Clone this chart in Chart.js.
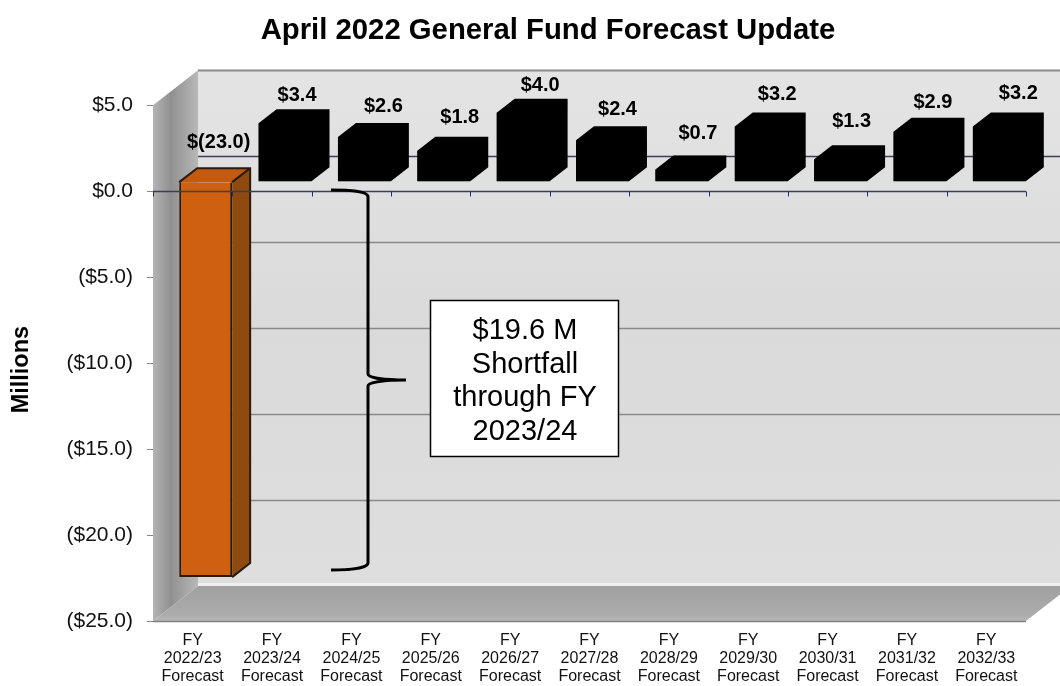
<!DOCTYPE html>
<html>
<head>
<meta charset="utf-8">
<title>April 2022 General Fund Forecast Update</title>
<script src="https://cdn.jsdelivr.net/npm/chart.js@4"></script>
<style>
  html, body { margin: 0; padding: 0; background: #fff; }
  canvas { display: block; }
</style>
</head>
<body>
<canvas id="myChart" width="1060" height="686"></canvas>
<script>
const years = ['2022/23', '2023/24', '2024/25', '2025/26', '2026/27', '2027/28', '2028/29', '2029/30', '2030/31', '2031/32', '2032/33']
const forecast = [-23.0, 3.4, 2.6, 1.8, 4.0, 2.4, 0.7, 3.2, 1.3, 2.9, 3.2]
const valueLabels = ['$(23.0)', '$3.4', '$2.6', '$1.8', '$4.0', '$2.4', '$0.7', '$3.2', '$1.3', '$2.9', '$3.2']
const noteLines = ['$19.6 M', 'Shortfall', 'through FY', '2023/24']

const FONT = '"Liberation Sans", Arial, sans-serif'
// how far the back wall sits from the front plane, and the bars inside that
const WALL_DX = 45, WALL_DY = -35
const BAR_DX = 13, BAR_DY = -9.5
const FACE_DX = 18, FACE_DY = -14
// label nudges, they are not placed evenly in the original
const labelNudgeX = [4, 3, 10, 7, 8, 6, 7, 7, 2, 4, 10]
const labelNudgeY = [-40, -28, -30, -33, -27, -31, -36, -32, -38, -29, -33]

function poly(ctx, pts, fill) {
    ctx.beginPath()
    pts.forEach((p, i) => i ? ctx.lineTo(p[0], p[1]) : ctx.moveTo(p[0], p[1]))
    ctx.closePath()
    ctx.fillStyle = fill
    ctx.fill()
}

const walls = {
    id: 'walls',
    beforeDraw(chart) {
        const ctx = chart.ctx, a = chart.chartArea, y = chart.scales.y
        const x0 = a.left, x1 = a.right, t = a.top, b = a.bottom
        const bx0 = x0 + WALL_DX, bx1 = x1 + WALL_DX, bt = t + WALL_DY, bb = b + WALL_DY

        let g = ctx.createLinearGradient(0, bt, 0, bb)
        g.addColorStop(0, '#e4e4e4')
        g.addColorStop(0.5, '#dadada')
        g.addColorStop(1, '#dedede')
        poly(ctx, [[bx0, bt], [bx1, bt], [bx1, bb], [bx0, bb]], g)

        g = ctx.createLinearGradient(x0, 0, bx0, 0)
        g.addColorStop(0, '#b4b4b4')
        g.addColorStop(0.4, '#919090')
        g.addColorStop(1, '#b8b8b8')
        poly(ctx, [[x0, t], [bx0, bt], [bx0, bb], [x0, b]], g)

        g = ctx.createLinearGradient(0, bb, 0, b)
        g.addColorStop(0, '#a0a0a0')
        g.addColorStop(0.85, '#acacac')
        g.addColorStop(1, '#bababa')
        poly(ctx, [[x0, b], [bx0, bb], [bx1, bb], [x1, b]], g)
        ctx.beginPath()
        ctx.moveTo(x0, b + 0.5)
        ctx.lineTo(x1, b + 0.5)
        ctx.lineWidth = 1.5
        ctx.strokeStyle = '#808080'
        ctx.stroke()

        // grid on the back wall
        y.ticks.forEach(tick => {
            const py = Math.round(y.getPixelForValue(tick.value) + WALL_DY) + 0.5
            if (tick.value === -25) return
            ctx.beginPath()
            ctx.moveTo(bx0, py)
            ctx.lineTo(bx1, py)
            ctx.lineWidth = tick.value === 5 ? 2 : 1.5
            ctx.strokeStyle = tick.value === 0 ? '#3d4054' : '#8a8a8a'
            ctx.stroke()
        })
        // light edge where the floor meets the wall
        ctx.fillStyle = '#efefef'
        ctx.fillRect(bx0, bb - 3, x1 - x0, 3)
    }
}

const bars3d = {
    id: 'bars3d',
    beforeDatasetDraw(chart, args) {
        const ctx = chart.ctx
        args.meta.data.forEach((el, i) => {
            const l = el.x - el.width / 2 + BAR_DX, r = el.x + el.width / 2 + BAR_DX
            const top = Math.min(el.y, el.base) + BAR_DY, bot = Math.max(el.y, el.base) + BAR_DY
            if (forecast[i] >= 0) {
                // black bars read as one flat shape, no seams between the faces
                poly(ctx, [[l, top], [l + FACE_DX, top + FACE_DY], [r + FACE_DX, top + FACE_DY], [r + FACE_DX, bot + FACE_DY], [r, bot], [l, bot]], '#000')
                return
            }
            poly(ctx, [[l, top], [l + FACE_DX, top + FACE_DY], [r + FACE_DX, top + FACE_DY], [r, top]], '#c25a12')
            poly(ctx, [[r, top], [r + FACE_DX, top + FACE_DY], [r + FACE_DX, bot + FACE_DY], [r, bot]], '#8f4a0f')
            ctx.beginPath()
            ctx.moveTo(l, top)
            ctx.lineTo(l + FACE_DX, top + FACE_DY)
            ctx.lineTo(r + FACE_DX, top + FACE_DY)
            ctx.lineTo(r + FACE_DX, bot + FACE_DY)
            ctx.lineTo(r, bot)
            ctx.moveTo(r + FACE_DX, top + FACE_DY)
            ctx.lineTo(r, top)
            ctx.lineWidth = 2
            ctx.strokeStyle = '#2a1a10'
            ctx.stroke()
        })
        ctx.save()
        ctx.translate(BAR_DX, BAR_DY)
    },
    afterDatasetDraw(chart) {
        chart.ctx.restore()
    },
    afterDatasetsDraw(chart) {
        const ctx = chart.ctx, x = chart.scales.x, y = chart.scales.y, a = chart.chartArea
        const zero = Math.round(y.getPixelForValue(0)) + 0.5

        // zero line and its ticks between the categories
        ctx.beginPath()
        ctx.moveTo(a.left, zero)
        ctx.lineTo(a.right, zero)
        ctx.lineWidth = 1.5
        ctx.strokeStyle = '#3a3f58'
        ctx.stroke()
        const band = x.width / years.length
        ctx.beginPath()
        for (let i = 0; i <= years.length; i++) {
            const px = Math.round(a.left + band * i) + 0.5
            ctx.moveTo(px, zero)
            ctx.lineTo(px, zero + 5)
        }
        ctx.lineWidth = 1
        ctx.strokeStyle = '#1f2f70'
        ctx.stroke()

        // value labels
        ctx.font = 'bold 20px ' + FONT
        ctx.fillStyle = '#000'
        ctx.textAlign = 'center'
        ctx.textBaseline = 'middle'
        chart.getDatasetMeta(0).data.forEach((el, i) => {
            const top = Math.min(el.y, el.base) + BAR_DY
            ctx.fillText(valueLabels[i], el.x + BAR_DX + FACE_DX / 2 + labelNudgeX[i], top + labelNudgeY[i])
        })

        // brace
        ctx.beginPath()
        ctx.moveTo(331, 190)
        ctx.bezierCurveTo(350, 190, 368, 191, 368, 197)
        ctx.lineTo(368, 374)
        ctx.bezierCurveTo(368, 378, 385, 380, 406, 380)
        ctx.bezierCurveTo(385, 380, 368, 382, 368, 386)
        ctx.lineTo(368, 563)
        ctx.bezierCurveTo(368, 568, 350, 570, 331, 570)
        ctx.lineWidth = 3
        ctx.strokeStyle = '#000'
        ctx.stroke()

        // note box
        ctx.fillStyle = '#fff'
        ctx.fillRect(430.5, 300.5, 188, 156)
        ctx.lineWidth = 1.5
        ctx.strokeStyle = '#000'
        ctx.strokeRect(430.5, 300.5, 188, 156)
        ctx.font = '29px ' + FONT
        ctx.fillStyle = '#000'
        ctx.textAlign = 'center'
        ctx.textBaseline = 'alphabetic'
        noteLines.forEach((line, i) => ctx.fillText(line, 525, 339 + i * 33.7))
    },
    afterLayout(chart) {
        // title box ends at the plot's right edge, move it to where the title sits in the original
        chart.titleBlock.left += 35
        chart.titleBlock.right += 35
    }
}

const ctx = document.getElementById('myChart').getContext('2d')
const myChart = new Chart(ctx, {
    type: 'bar',
    plugins: [walls, bars3d],
    data: {
        labels: years.map(y => ['FY', y, 'Forecast']),
        datasets: [{
            label: 'General Fund',
            data: forecast,
            backgroundColor: forecast.map(v => v < 0 ? '#cf600f' : '#000'),
            borderColor: forecast.map(v => v < 0 ? '#2a1a10' : '#000'),
            borderWidth: forecast.map(v => v < 0 ? 2 : 1),
            barPercentage: 0.667,
            categoryPercentage: 1,
            clip: false
        }]
    },
    options: {
        responsive: false,
        animation: false,
        layout: { padding: { left: 0, right: 34, top: 0, bottom: 0 } },
        plugins: {
            legend: { display: false },
            tooltip: { enabled: false },
            title: {
                display: true,
                text: 'April 2022 General Fund Forecast Update',
                color: '#000',
                font: { family: FONT, size: 29.3, weight: 'bold', lineHeight: 1.2 },
                padding: { top: 13, bottom: 57 }
            }
        },
        scales: {
            x: {
                grid: { display: false },
                border: { display: false },
                ticks: {
                    color: '#111',
                    padding: 2,
                    maxRotation: 0,
                    autoSkip: false,
                    font: { family: FONT, size: 16, lineHeight: 1.15 }
                },
                afterFit(scale) { scale.height = 65 }
            },
            y: {
                min: -25,
                max: 5,
                grid: { drawOnChartArea: false, tickLength: 6, tickColor: '#888' },
                border: { display: false },
                title: {
                    display: true,
                    // trailing spaces push the rotated word down to where it sits in the original
                    text: 'Millions  ',
                    color: '#000',
                    font: { family: FONT, size: 23.5, weight: 'bold', lineHeight: 1.2 },
                    padding: { top: 7, bottom: 0 }
                },
                ticks: {
                    stepSize: 5,
                    color: '#111',
                    padding: 14,
                    font: { family: FONT, size: 21 },
                    callback(v) {
                        if (v < 0) return '($' + Math.abs(v).toFixed(1) + ')'
                        return '$' + v.toFixed(1)
                    }
                },
                afterFit(scale) { scale.width = 153 }
            }
        }
    }
})
</script>
</body>
</html>
